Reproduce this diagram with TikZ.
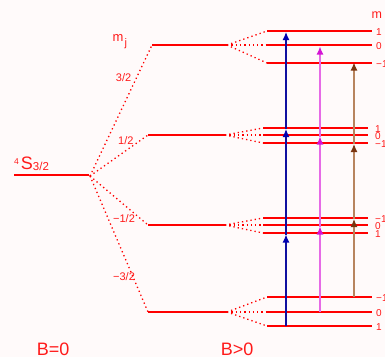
\documentclass[tikz,border=0pt]{standalone}
\usepackage{fontspec}
\setmainfont{Liberation Sans}
\usetikzlibrary{arrows.meta}
\definecolor{bg}{HTML}{FFFAFA}
\definecolor{lvl}{HTML}{FF0000}
\definecolor{txt}{HTML}{FF1A1A}
\definecolor{bline}{HTML}{1010A0}
\definecolor{bhead}{HTML}{0000B0}
\definecolor{mline}{HTML}{E66AE6}
\definecolor{mhead}{HTML}{D414D4}
\definecolor{nline}{HTML}{B8845E}
\definecolor{nhead}{HTML}{7A3510}
\begin{document}
\begin{tikzpicture}[x=1pt,y=-1pt,
  level/.style={draw=lvl,line width=1.3pt},
  fan/.style={draw=lvl,line width=1.3pt,dash pattern=on 1.3pt off 3pt},
  lab/.style={text=txt,inner sep=0pt,font=\fontsize{11}{11}\selectfont},
  mlab/.style={text=txt,inner sep=0pt,font=\fontsize{10}{10}\selectfont},
  big/.style={text=txt,inner sep=0pt,font=\fontsize{18}{18}\selectfont},
  trans/.style={line width=1.2pt,-{Latex[length=8pt,width=7pt,color=#1]}}
]
\fill[bg] (0,0) rectangle (385,357);
\useasboundingbox (0,0) rectangle (385,357);

% zero-field level and the four m_j levels
\coordinate (gl) at (14,175);
\coordinate (gr) at (89,175);
\coordinate (z) at (90,176);
\draw[level] (gl) -- (gr);

\coordinate (a3l) at (152,45);  \coordinate (a3r) at (227,45);
\coordinate (a1l) at (148,135); \coordinate (a1r) at (225,135);
\coordinate (c1l) at (148,225); \coordinate (c1r) at (225,225);
\coordinate (c3l) at (148,312); \coordinate (c3r) at (227,312);
\foreach \p in {a3,a1,c1,c3}{
  \draw[level] (\p l) -- (\p r);
  \draw[fan] (z) -- (\p l);
}

% sublevels of each m_j level
\foreach \n/\c/\xa/\xb/\xt/\ya/\yb/\yc/\la/\lc in {
  g1/a3r/267/372/376/31/45/63/1/{\char"2212 1},
  g2/a1r/263/368/375/128/135/143/1/{\char"2212 1},
  g3/c1r/263/368/375/218/225/233/{\char"2212 1}/1,
  g4/c3r/267/372/376/297/312/326/{\char"2212 1}/1}{
  \coordinate (\n-as) at (\xa,\ya); \coordinate (\n-ae) at (\xb,\ya);
  \coordinate (\n-bs) at (\xa,\yb); \coordinate (\n-be) at (\xb,\yb);
  \coordinate (\n-cs) at (\xa,\yc); \coordinate (\n-ce) at (\xb,\yc);
  \draw[fan] (\c) -- (\n-as);
  \draw[fan] (\c) -- (\n-bs);
  \draw[fan] (\c) -- (\n-cs);
  \draw[level] (\n-as) -- (\n-ae);
  \draw[level] (\n-bs) -- (\n-be);
  \draw[level] (\n-cs) -- (\n-ce);
  \node[mlab,anchor=west] (\n-la) at (\xt,\ya+1) {\la};
  \node[mlab,anchor=west] (\n-lb) at (\xt,\yb+1) {0};
  \node[mlab,anchor=west] (\n-lc) at (\xt,\yc+1) {\lc};
}

% transitions
\coordinate (b0) at (286,326);   \coordinate (b1) at (286,234.5);
\coordinate (b2) at (286,129);   \coordinate (b3) at (286,32);
\coordinate (m0) at (320,312);   \coordinate (m1) at (320,226.5);
\coordinate (m2) at (320,136.5); \coordinate (m3) at (320,46.5);
\coordinate (n0) at (354,297);   \coordinate (n1) at (354,219);
\coordinate (n2) at (354,144);   \coordinate (n3) at (354,62.5);
\draw[trans=bhead,bline] (b0) -- (b1);
\draw[trans=bhead,bline] (b1) -- (b2);
\draw[trans=bhead,bline] (b2) -- (b3);
\draw[trans=mhead,mline] (m0) -- (m1);
\draw[trans=mhead,mline] (m1) -- (m2);
\draw[trans=mhead,mline] (m2) -- (m3);
\draw[trans=nhead,nline] (n0) -- (n1);
\draw[trans=nhead,nline] (n1) -- (n2);
\draw[trans=nhead,nline] (n2) -- (n3);

% labels
\node[text=txt,inner sep=0pt,anchor=base west] (term) at (14,169.3)
  {\fontsize{8.5}{8.5}\selectfont\raisebox{5.3pt}{4}\hspace{2pt}%
   \fontsize{18}{18}\selectfont S%
   \fontsize{11.5}{11.5}\selectfont\raisebox{-1.4pt}{3/2}};
\node[text=txt,inner sep=0pt,anchor=base west] (mj) at (112.3,41)
  {\fontsize{13}{13}\selectfont m\hspace{1.2pt}\raisebox{-5pt}{\fontsize{11}{11}\selectfont j}};
\node[lab,anchor=base west] (l32) at (115.7,81.5) {3/2};
\node[lab,anchor=base west] (l12) at (118,144) {1/2};
\node[lab,anchor=base west] (lm12) at (113,222.5) {\char"2212 1/2};
\node[lab,anchor=base west] (lm32) at (113,280) {\char"2212 3/2};
\node[text=txt,inner sep=0pt,anchor=base west,font=\fontsize{12.5}{12.5}\selectfont] (mr) at (371.5,18.5) {m};
\node[big,anchor=base west] (b0lab) at (36.7,355) {B=0};
\node[big,anchor=base west] (b1lab) at (220.7,355) {B>0};
\end{tikzpicture}
\end{document}
